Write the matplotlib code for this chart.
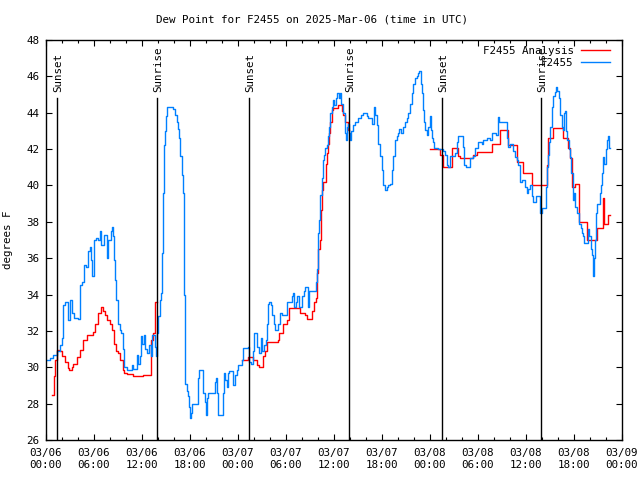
import numpy as np
import matplotlib
matplotlib.use("Agg")
from matplotlib import pyplot as plt
from matplotlib import transforms

plt.rcParams['font.family'] = ['DejaVu Sans Mono']
plt.rcParams['font.size'] = 7.8

# hours since 2025-03-06 00:00 UTC
obs_hours = [
    0.12, 0.5, 0.88, 1.38, 1.75, 2.0, 2.12, 2.38, 2.75, 3.0, 3.25, 3.5, 4.0, 4.25, 4.5, 4.75,
    5.0, 5.25, 5.5, 5.62, 5.75, 6.0, 6.25, 6.5, 6.75, 6.88, 7.25, 7.62, 7.75, 8.12, 8.25, 8.38,
    8.5, 8.62, 8.75, 9.0, 9.25, 9.38, 9.62, 9.75, 10.12, 10.75, 10.88, 11.38, 11.5, 11.75, 11.88,
    12.0, 12.25, 12.38, 12.62, 12.88, 13.12, 13.25, 13.62, 13.75, 13.88, 14.0, 14.25, 14.38, 14.5,
    14.62, 14.75, 14.88, 15.0, 15.12, 15.88, 16.12, 16.38, 16.5, 16.62, 16.75, 17.0, 17.12, 17.19,
    17.25, 17.31, 17.38, 17.62, 17.75, 17.88, 18.0, 18.12, 18.25, 19.0, 19.12, 19.62, 19.88, 20.0,
    20.12, 20.25, 21.12, 21.25, 21.38, 21.5, 22.12, 22.25, 22.38, 22.62, 22.75, 22.88, 23.38,
    23.62, 23.88, 24.0, 24.5, 24.62, 25.25, 25.38, 25.62, 25.88, 26.0, 26.38, 26.62, 26.88, 27.0,
    27.25, 27.5, 27.62, 27.75, 27.88, 28.12, 28.25, 28.5, 28.62, 29.0, 29.25, 29.5, 29.62, 30.12,
    30.75, 30.88, 31.0, 31.25, 31.38, 31.62, 32.0, 32.25, 32.38, 32.75, 32.88, 33.75, 33.88, 33.94,
    34.0, 34.12, 34.25, 34.5, 34.62, 34.75, 34.88, 35.12, 35.25, 35.38, 35.5, 35.75, 35.88, 36.0,
    36.25, 36.38, 36.62, 36.75, 36.88, 37.12, 37.38, 37.5, 37.62, 37.75, 37.88, 38.0, 38.12, 38.38,
    38.62, 39.0, 39.38, 39.62, 40.12, 40.25, 40.75, 41.0, 41.12, 41.38, 41.5, 41.75, 42.0, 42.12,
    42.38, 42.62, 42.75, 43.0, 43.25, 43.38, 43.62, 43.88, 44.0, 44.12, 44.38, 44.62, 44.88, 45.12,
    45.25, 45.5, 45.75, 45.88, 46.12, 46.38, 46.5, 46.62, 46.88, 47.0, 47.12, 47.25, 47.38, 47.62,
    47.75, 48.0, 48.12, 48.25, 48.38, 48.5, 49.0, 49.62, 49.88, 50.12, 50.25, 50.5, 51.12, 51.38,
    51.5, 52.12, 52.25, 52.5, 53.0, 53.38, 53.62, 54.0, 54.5, 54.62, 55.12, 55.5, 55.75, 56.25,
    56.5, 56.62, 57.62, 57.75, 58.0, 58.38, 58.62, 58.88, 59.0, 59.25, 59.5, 59.88, 60.12, 60.25,
    60.5, 60.75, 60.88, 61.25, 61.75, 62.0, 62.5, 62.62, 62.75, 62.88, 63.0, 63.25, 63.38, 63.62,
    63.75, 63.88, 64.12, 64.25, 64.5, 64.62, 64.75, 64.88, 65.0, 65.12, 65.38, 65.5, 65.62, 65.88,
    66.0, 66.12, 66.38, 66.62, 66.88, 67.0, 67.12, 67.25, 67.75, 67.88, 68.12, 68.25, 68.38, 68.5,
    68.62, 68.75, 68.88, 69.25, 69.38, 69.5, 69.62, 69.75, 70.0, 70.12, 70.25, 70.38, 70.5,
]
obs_dewpt = [
    30.4, 30.5, 30.7, 30.9, 31.2, 31.6, 33.4, 33.6, 32.6, 33.7, 33.0, 32.7, 32.65, 34.5, 34.7, 35.6,
    35.5, 36.4, 36.6, 35.9, 35.0, 37.0, 37.1, 37.0, 37.5, 36.7, 37.3, 36.0, 37.0, 37.5, 37.7, 37.2,
    35.9, 34.8, 33.7, 32.4, 32.05, 31.9, 31.0, 30.0, 29.85, 30.1, 29.9, 30.7, 30.2, 30.6, 31.7,
    31.3, 31.8, 31.0, 30.8, 31.2, 30.6, 31.8, 31.1, 30.6, 31.9, 32.8, 33.7, 34.1, 36.3,
    39.6, 42.2, 43.0, 43.8, 44.3, 44.2, 43.9, 43.5, 43.1, 42.6, 41.6, 40.6, 39.6, 38.9,
    38.4, 34.0, 29.1, 28.7, 28.4, 27.8, 27.2, 27.5, 28.0, 29.4, 29.85, 28.6, 28.1, 27.4,
    28.3, 28.6, 29.2, 29.4, 28.6, 27.4, 28.6, 29.7, 29.3, 28.9, 29.7, 29.8, 29.0,
    29.6, 29.85, 30.1, 30.4, 31.05, 31.1, 30.3, 30.2, 30.9, 31.9, 31.1, 30.8, 31.6, 30.9,
    31.2, 31.5, 32.4, 33.5, 33.6, 33.4, 32.9, 32.4, 32.05, 32.4, 33.0, 32.9, 32.85, 33.6,
    33.9, 34.1, 33.3, 33.6, 33.9, 33.3, 33.9, 34.2, 34.4, 33.3, 34.2, 34.7, 35.4, 36.3,
    37.4, 38.1, 39.5, 40.4, 41.4, 41.7, 42.05, 42.2, 42.7, 43.2, 44.0, 44.3, 44.7, 44.4,
    44.8, 45.1, 44.8, 45.1, 44.5, 44.0, 42.9, 42.5, 43.2, 43.4, 42.9, 42.5, 43.0, 43.3,
    43.5, 43.7, 43.9, 44.0, 43.8, 43.7, 43.4, 44.3, 43.9, 43.3, 42.3, 41.6, 40.85, 40.0,
    39.75, 39.9, 40.0, 40.1, 40.85, 41.6, 42.5, 42.7, 42.9, 43.1, 42.9, 43.2, 43.5, 43.7,
    44.0, 44.5, 45.1, 45.6, 45.9, 46.0, 46.2, 46.3, 45.6, 45.1, 44.15, 43.5, 43.05, 42.8,
    43.2, 43.8, 43.05, 42.6, 42.4, 42.05, 42.0, 41.9, 41.7, 41.1, 41.0, 41.6, 41.8, 42.4,
    42.7, 42.1, 41.1, 41.0, 41.5, 41.6, 42.05, 42.4, 42.3, 42.5, 42.6, 42.5, 42.9, 42.8,
    43.75, 43.5, 42.6, 42.1, 42.3, 41.9, 41.55, 41.4, 41.15, 40.2, 40.3, 39.9, 39.6, 39.8,
    40.0, 39.4, 39.1, 39.4, 38.5, 38.75, 39.9, 41.0, 41.7, 42.4, 43.2, 44.3, 44.9, 45.15,
    45.4, 45.2, 44.8, 43.9, 43.2, 43.05, 44.0, 44.1, 43.0, 42.5, 42.0, 41.55, 40.7, 39.2,
    39.6, 38.8, 38.5, 37.9, 37.65, 37.4, 37.2, 36.85, 37.6, 37.2, 36.5, 36.2, 35.0, 36.0,
    37.0, 38.5, 39.0, 39.6, 40.0, 40.7, 41.55, 41.2, 42.0, 42.5, 42.7, 42.05, 42.05,
]

# analysis series, nan = no analysis
ana_hours = [
    0.75, 1.0, 1.12, 1.38, 1.75, 2.0, 2.38, 2.75, 2.88, 3.25, 3.38, 3.88, 4.25, 4.62, 5.12, 5.88,
    6.12, 6.5, 6.88, 7.12, 7.38, 7.62, 8.0, 8.25, 8.5, 8.75, 9.0, 9.25, 9.62, 9.75, 10.12, 10.88,
    12.12, 13.12, 13.38, 13.62, 13.88,
    24.5, 25.25, 25.88, 26.38, 26.62, 27.12, 27.38, 27.62, 29.0, 29.12, 29.62, 30.12, 30.38, 31.75,
    32.38, 32.62, 33.25, 33.5, 33.75, 33.88, 34.0, 34.25, 34.38, 34.5, 34.62, 35.0, 35.12, 35.25,
    35.38, 35.5, 35.75, 35.88, 36.5, 37.0, 37.12, 37.38, 37.75, 37.88,
    48.0, 49.25, 49.62, 50.75, 51.5, 51.75, 53.38, 53.88, 55.75, 56.75, 57.75, 58.88, 59.62, 60.75,
    62.62, 62.75, 63.38, 64.62, 65.25, 65.5, 65.75, 66.12, 66.62, 67.62, 68.88, 69.62, 69.75,
    70.25, 70.5,
]
ana_dewpt = [
    28.5, 29.5, 30.4, 30.95, 30.9, 30.6, 30.3, 29.95, 29.85, 30.0, 30.2, 30.55, 30.95, 31.5, 31.75,
    31.95, 32.4, 33.0, 33.3, 33.1, 32.9, 32.6, 32.4, 32.05, 31.3, 30.9, 30.8, 30.4, 29.85, 29.7,
    29.65, 29.5, 29.6, 31.5, 31.9, 33.6, np.nan,
    30.4, 30.55, 30.4, 30.1, 30.0, 30.6, 30.9, 31.4, 31.5, 31.9, 32.4, 32.6, 33.25, 33.0, 32.85,
    32.65, 33.1, 33.6, 33.8, 35.2, 36.5, 37.0, 38.65, 39.75, 40.2, 41.2, 41.8, 42.3, 42.9, 43.5,
    44.15, 44.25, 44.4, 44.1, 43.9, 43.5, 43.05, np.nan,
    42.0, 41.7, 41.0, 42.05, 41.6, 41.5, 41.7, 41.85, 42.3, 43.05, 42.2, 41.3, 40.7, 40.0, 41.1,
    42.6, 43.15, 42.6, 42.05, 41.5, 39.9, 40.1, 38.0, 37.0, 37.65, 39.3, 37.9, 38.35, 38.35,
]

sun_events = ["Sunset", "Sunrise", "Sunset", "Sunrise", "Sunset", "Sunrise"]
sun_hours = [1.42, 13.92, 25.42, 37.92, 49.45, 61.83]

tick_labels = ["03/06\n00:00", "03/06\n06:00", "03/06\n12:00", "03/06\n18:00",
               "03/07\n00:00", "03/07\n06:00", "03/07\n12:00", "03/07\n18:00",
               "03/08\n00:00", "03/08\n06:00", "03/08\n12:00", "03/08\n18:00",
               "03/09\n00:00"]

fig = plt.figure(figsize=(6.4, 4.8), dpi=100)
ax = fig.add_axes([46 / 640, 40 / 480, 576 / 640, 400 / 480])

ax.plot(ana_hours, ana_dewpt, color="#ff0000", lw=1.0, drawstyle="steps-post", label="F2455 Analysis")
ax.plot(obs_hours, obs_dewpt, color="#0080ff", lw=1.0, drawstyle="steps-post", label="F2455")

trans = transforms.blended_transform_factory(ax.transData, ax.transAxes)
for name, h in zip(sun_events, sun_hours):
    ax.plot([h, h], [0, 342 / 400], color="black", lw=1.0, transform=trans)
    ax.text(h + 0.15, 348 / 400, name, rotation=90, ha="center", va="bottom", transform=trans)

ax.set_xlim(0, 72)
ax.set_ylim(26, 48)
ax.set_xticks(np.arange(0, 73, 6))
ax.set_xticklabels(tick_labels, linespacing=1.25)
ax.set_xticks(np.arange(0, 73, 2), minor=True)
ax.set_yticks(np.arange(26, 49, 2))
ax.tick_params(axis="both", which="major", direction="in", length=4.5, width=0.8,
               top=True, right=True)
ax.tick_params(axis="x", which="minor", direction="in", length=2.3, width=0.8, top=True)
ax.tick_params(axis="x", which="major", pad=6)
ax.tick_params(axis="y", which="major", pad=5)
for sp in ax.spines.values():
    sp.set_linewidth(1.0)

ax.set_ylabel("degrees F")
ax.yaxis.set_label_coords((13.5 - 46) / 576, 0.5)
fig.text(312 / 640, 1 - 20 / 480, "Dew Point for F2455 on 2025-Mar-06 (time in UTC)",
         ha="center", va="center")

ax.legend(loc="upper right", bbox_to_anchor=(1 - 12 / 576, 1 - 6 / 400), markerfirst=False,
          frameon=False, borderaxespad=0, borderpad=0, handlelength=2.7, handletextpad=0.65,
          labelspacing=0.2)

fig.savefig("out.png", dpi=100)
